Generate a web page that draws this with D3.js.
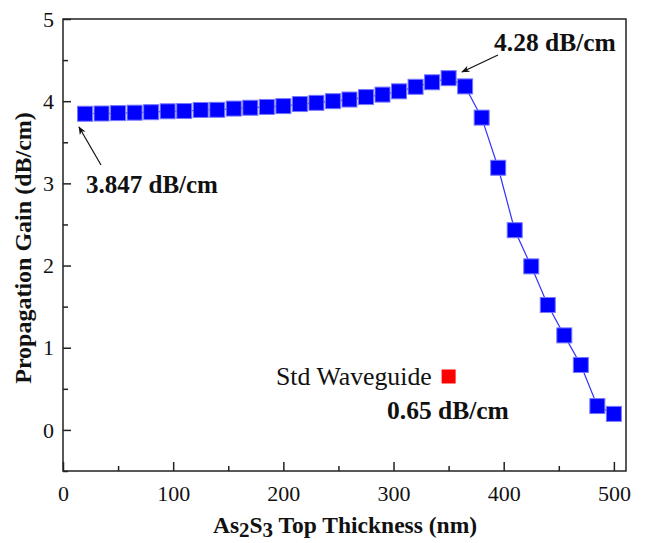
<!DOCTYPE html>
<html><head><meta charset="utf-8">
<script src="https://cdn.jsdelivr.net/npm/d3@7"></script>
<style>body{margin:0;background:#fff}svg{display:block}text{font-family:"Liberation Serif";}</style>
</head><body>
<script>
const thickness = [20,35,50,65,80,95,110,125,140,155,170,185,200,215,230,245,260,275,290,305,320,335,350,365,380,395,410,425,440,455,470,485,500];
const gain = [3.847,3.85,3.855,3.86,3.866,3.877,3.88,3.893,3.895,3.91,3.92,3.93,3.94,3.965,3.98,4.0,4.02,4.05,4.08,4.12,4.175,4.23,4.28,4.18,3.80,3.19,2.43,1.99,1.52,1.15,0.79,0.29,0.195];
const stdThickness = [350];
const stdGain = [0.65];
const xTicks = [0,100,200,300,400,500];
const yTicks = [0,1,2,3,4,5];
const xMinor = [50,150,250,350,450];
const yMinor = [-0.5,0.5,1.5,2.5,3.5,4.5];

const W=646,H=543;
const L=63,R=626,T=19,B=471;
const svg=d3.select("body").append("svg").attr("width",W).attr("height",H);
const x=d3.scaleLinear().domain([0,511]).range([L,R]);
const y=d3.scaleLinear().domain([-0.5,5]).range([B,T]);
const font="Liberation Serif";
const axisCol="#222";

// axes
const gx=svg.append("g").attr("transform",`translate(0,${B})`)
  .call(d3.axisBottom(x).tickValues(xTicks).tickSize(-9).tickPadding(14).tickFormat(d3.format("d")));
const gxm=svg.append("g").attr("transform",`translate(0,${B})`)
  .call(d3.axisBottom(x).tickValues(xMinor).tickSize(-5).tickFormat(""));
const gy=svg.append("g").attr("transform",`translate(${L},0)`)
  .call(d3.axisLeft(y).tickValues(yTicks).tickSize(-8).tickPadding(9).tickFormat(d3.format("d")));
const gym=svg.append("g").attr("transform",`translate(${L},0)`)
  .call(d3.axisLeft(y).tickValues(yMinor).tickSize(-5).tickFormat(""));
[gx,gxm,gy,gym].forEach(g=>{
  g.attr("font-family",font).attr("font-size",22);
  g.select(".domain").remove();
  g.selectAll(".tick line").attr("stroke",axisCol).attr("stroke-width",1.5);
  g.selectAll("text").attr("font-family",font).attr("font-size",22).attr("fill","#111");
});
gy.selectAll("text").attr("dy","0.33em");

// frame
svg.append("rect").attr("x",L).attr("y",T).attr("width",R-L).attr("height",B-T)
  .attr("fill","none").attr("stroke",axisCol).attr("stroke-width",1.5);

// line
const data=thickness.map((t,i)=>({t,g:gain[i]}));
svg.append("path").datum(data)
  .attr("d",d3.line().x(d=>x(d.t)).y(d=>y(d.g)))
  .attr("fill","none").attr("stroke","#3333ff").attr("stroke-width",1.2);
const s=15;
svg.selectAll("rect.pt").data(data).enter().append("rect").attr("class","pt")
  .attr("x",d=>x(d.t)-s/2).attr("y",d=>y(d.g)-s/2).attr("width",s).attr("height",s)
  .attr("fill","#0000ff").attr("stroke","#7777ff").attr("stroke-width",1);

// std waveguide
const sd=stdThickness.map((t,i)=>({t,g:stdGain[i]}));
svg.selectAll("rect.std").data(sd).enter().append("rect").attr("class","std")
  .attr("x",d=>x(d.t)-7).attr("y",d=>y(d.g)-7).attr("width",14).attr("height",14)
  .attr("fill","#ff0000");

// arrows
const defs=svg.append("defs");
defs.append("marker").attr("id","ah").attr("viewBox","0 0 10 10").attr("refX",9).attr("refY",5)
  .attr("markerWidth",7).attr("markerHeight",7).attr("orient","auto")
  .append("path").attr("d","M0,1 L10,5 L0,9 L3,5 Z").attr("fill","#111");
function arrow(x1,y1,x2,y2){
  svg.append("line").attr("x1",x1).attr("y1",y1).attr("x2",x2).attr("y2",y2)
    .attr("stroke","#111").attr("stroke-width",1.2).attr("marker-end","url(#ah)");
}
arrow(101,165,79,127);
arrow(498,55,462,72);

function txt(x0,y0,t,bold,size){
  return svg.append("text").attr("x",x0).attr("y",y0).text(t)
    .attr("font-family",font).attr("font-size",size).attr("font-weight",bold?"bold":"normal")
    .attr("fill","#111");
}
txt(86,193,"3.847 dB/cm",true,25);
txt(494,51,"4.28 dB/cm",true,25.5);
txt(387,419,"0.65 dB/cm",true,25.5);
txt(276,385,"Std Waveguide",false,25.8);

// axis titles
const xt=svg.append("text").attr("x",345).attr("y",533).attr("text-anchor","middle")
  .attr("font-family",font).attr("font-size",23.5).attr("font-weight","bold").attr("fill","#111");
xt.append("tspan").text("As");
xt.append("tspan").text("2").attr("dy",4).attr("font-size",21);
xt.append("tspan").text("S").attr("dy",-4);
xt.append("tspan").text("3").attr("dy",4).attr("font-size",21);
xt.append("tspan").text(" Top Thickness (nm)").attr("dy",-4);
svg.append("text").attr("transform",`translate(31,248) rotate(-90)`).attr("text-anchor","middle")
  .attr("font-family",font).attr("font-size",24).attr("font-weight","bold").attr("fill","#111")
  .text("Propagation Gain (dB/cm)");
</script>
</body></html>
